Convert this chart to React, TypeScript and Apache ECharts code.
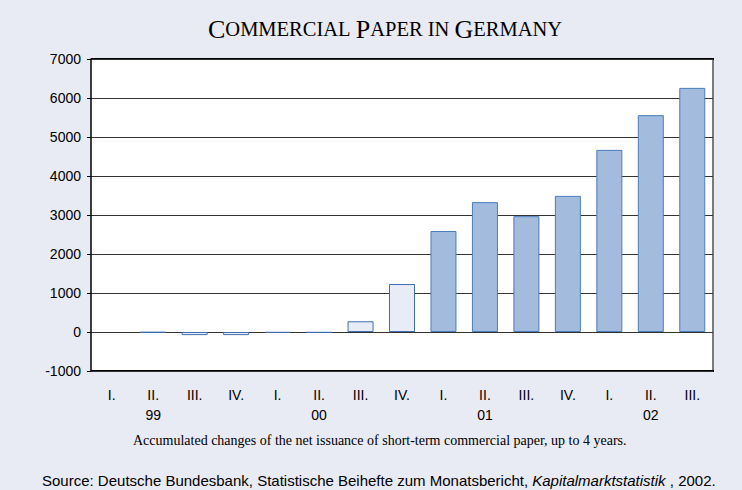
import React, { useEffect, useRef } from "react";
import * as echarts from "echarts";

const quarters = ["I.", "II.", "III.", "IV.", "I.", "II.", "III.", "IV.", "I.", "II.", "III.", "IV.", "I.", "II.", "III."];
const years = ["", "99", "", "", "", "00", "", "", "", "01", "", "", "", "02", ""];
const values: (number | null)[] = [null, -15, -80, -80, -20, -20, 275, 1230, 2590, 3330, 2970, 3490, 4670, 5560, 6260];
const lightCount = 8;
const yTicks = { min: -1000, max: 7000, interval: 1000 };

export default function App() {
  const ref = useRef<HTMLDivElement>(null);
  useEffect(() => {
    if (!ref.current) return;
    const chart = echarts.init(ref.current, null, { renderer: "svg" });
    const data = values.map((v, i) => ({
      value: v === null ? "-" : v,
      itemStyle: i < lightCount
        ? { color: "#E8ECF7", borderColor: "#3F6FB0", borderWidth: 1 }
        : { color: "#A3BBDC", borderColor: "#4A7CBD", borderWidth: 1 },
    }));
    chart.setOption({
      animation: false,
      backgroundColor: "#E8EAF4",
      grid: {
        left: 91, right: 29, top: 59, bottom: 119,
        show: true, backgroundColor: "#FFFFFF", borderColor: "#7a7a7a", borderWidth: 0,
      },
      xAxis: {
        type: "category",
        data: quarters.map((q, i) => i),
        axisLine: { show: false },
        axisTick: { show: false },
        axisLabel: {
          interval: 0,
          margin: 14,
          formatter: (v: string, i: number) => years[i] ? `${quarters[i]}\n${years[i]}` : quarters[i],
          fontFamily: "Liberation Sans",
          fontSize: 14,
          color: "#000",
          lineHeight: 20,
          verticalAlign: "top",
        },
      },
      yAxis: {
        type: "value",
        min: yTicks.min,
        max: yTicks.max,
        interval: yTicks.interval,
        axisLine: { show: true, lineStyle: { color: "#000", width: 1.5 } },
        axisTick: { show: true, length: 4, lineStyle: { color: "#000" } },
        axisLabel: {
          fontFamily: "Liberation Sans", fontSize: 14, color: "#000", margin: 10,
          formatter: (v: number) => String(v),
        },
        splitLine: { show: true, lineStyle: { color: "#333", width: 1 } },
      },
      series: [{
        type: "bar",
        data,
        barWidth: 26,
      }],
      graphic: [
        {
          type: "text", left: 208, top: 16,
          style: {
            text: "{b|C}{s|OMMERCIAL }{b|P}{s|APER IN }{b|G}{s|ERMANY}",
            rich: {
              b: { fontFamily: "Liberation Serif", fontSize: 26, fill: "#000" },
              s: { fontFamily: "Liberation Serif", fontSize: 20.5, fill: "#000" },
            },
          },
        },
        {
          type: "rect", left: 712, top: 58,
          shape: { width: 2, height: 314 },
          style: { fill: "#7a7a7a" },
        },
        {
          type: "rect", left: 91, top: 370,
          shape: { width: 623, height: 2 },
          style: { fill: "#000" },
        },
        {
          type: "rect", left: 91, top: 58,
          shape: { width: 623, height: 2 },
          style: { fill: "#000" },
        },
        {
          type: "text", left: 133, top: 433,
          style: {
            text: "Accumulated changes of the net issuance of short-term commercial paper, up to 4 years.",
            fontFamily: "Liberation Serif", fontSize: 14, fill: "#000",
          },
        },
        {
          type: "text", left: 42, top: 473,
          style: {
            text: "Source: Deutsche Bundesbank, Statistische Beihefte zum Monatsbericht, {i|Kapitalmarktstatistik} , 2002.",
            fontFamily: "Liberation Sans", fontSize: 15, fill: "#000",
            rich: { i: { fontFamily: "Liberation Sans", fontSize: 15, fontStyle: "italic", fill: "#000" } },
          },
        },
      ],
    });
    return () => chart.dispose();
  }, []);
  return <div ref={ref} style={{ width: 742, height: 490, position: "absolute", left: 0, top: 0 }} />;
}
